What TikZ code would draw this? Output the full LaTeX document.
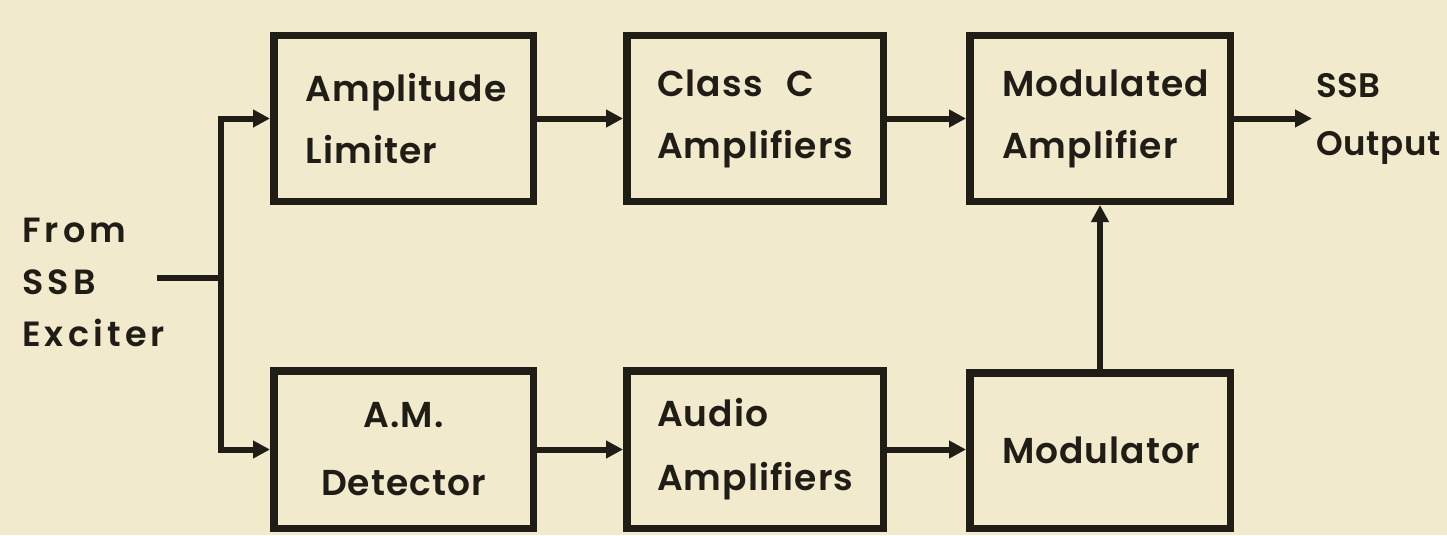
\documentclass[tikz,border=0pt]{standalone}
\usepackage{fontspec}
\setmainfont{Poppins}[UprightFont={* SemiBold}]
\newfontfamily\boxfont{Poppins}[UprightFont={* SemiBold}, LetterSpace=3]
\newfontfamily\lblfont{Poppins}[UprightFont={* SemiBold}, LetterSpace=12]
\newfontfamily\outfont{Poppins}[UprightFont={* SemiBold}, LetterSpace=2]
\usetikzlibrary{arrows.meta}
\definecolor{paper}{RGB}{241,234,205}
\definecolor{ink}{RGB}{32,28,22}
\tikzset{
  blk/.style={draw=ink, line width=7.5pt, minimum height=165.5pt, inner sep=0pt,
    font=\boxfont\fontsize{36}{62}\selectfont, text=ink},
  lblk/.style={blk, align=left, text width=196pt},
  cblk/.style={blk, align=center, text width=200pt},
  conn/.style={draw=ink, line width=6pt, -{Triangle[length=17pt,width=17pt]}},
  wire/.style={draw=ink, line width=6pt},
  lbl/.style={font=\lblfont\fontsize{35}{52}\selectfont, text=ink, align=left, inner sep=0pt},
  olbl/.style={font=\outfont\fontsize{34}{58}\selectfont, text=ink, align=left, inner sep=0pt}
}
\begin{document}
\begin{tikzpicture}[x=1pt,y=-1pt]
\fill[paper] (0,0) rectangle (1447,535);
\useasboundingbox (0,0) rectangle (1447,535);
\begin{scope}
\clip (0,0) rectangle (1447,535);
\node[lblk, minimum width=259.5pt] (al) at (403.5,118.5) {Amplitude\\Limiter};
\node[lblk, minimum width=256.5pt] (cc) at (755,118.5) {Class\ \ C\\Amplifiers};
\node[lblk, minimum width=260.5pt] (ma) at (1100,118.5) {Modulated\\Amplifier};
\node[cblk, minimum width=259.5pt, minimum height=157.5pt] (am) at (403.5,449.5) {A.M.\\[6pt]Detector};
\node[lblk, minimum width=256.5pt, minimum height=157.5pt] (aa) at (755,449.5) {Audio\\[2pt]Amplifiers};
\node[lblk, minimum width=260.5pt, minimum height=155.5pt] (mo) at (1100,450.5) {Modulator};
\end{scope}
\node[lbl, anchor=west] (src) at (22,282) {From\\SSB\\Exciter};
\node[olbl, anchor=west] (outl) at (1316,119) {SSB\\Output};
\coordinate (in) at (157,278);
\coordinate (j) at (221,278);
\coordinate (out) at (1312,118.5);
\draw[wire] (in) -- (j);
\draw[conn] (j) |- (al.west);
\draw[conn] (j) |- (am.west);
\draw[conn] (al.east) -- (cc.west);
\draw[conn] (cc.east) -- (ma.west);
\draw[conn] (am.east) -- (aa.west);
\draw[conn] (aa.east) -- (mo.west |- aa.east);
\draw[conn] (mo.north) -- (ma.south);
\draw[conn] (ma.east) -- (out);
\end{tikzpicture}
\end{document}
